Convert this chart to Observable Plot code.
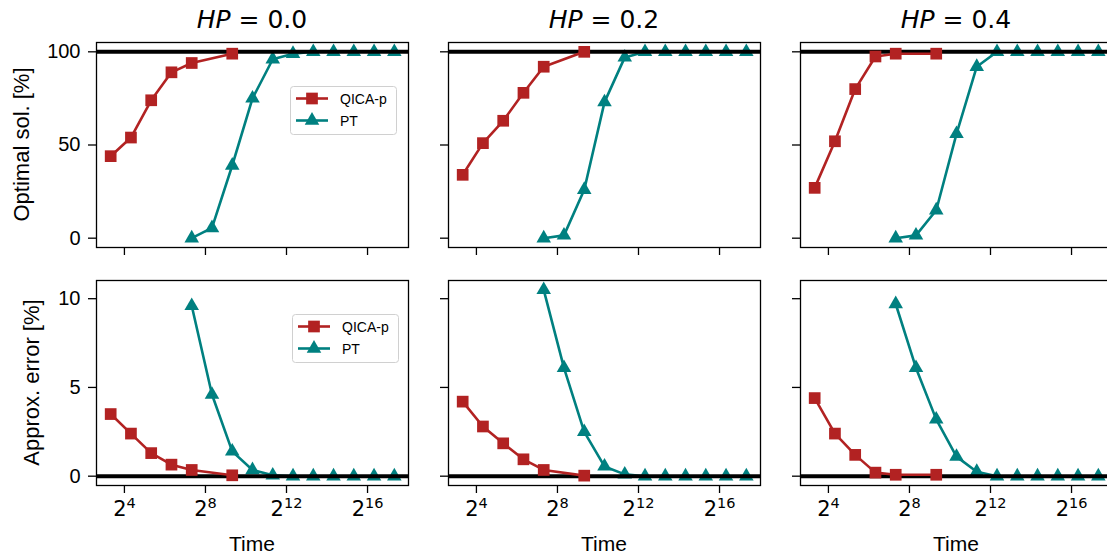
<!DOCTYPE html>
<html><head><meta charset="utf-8">
<script src="https://cdn.jsdelivr.net/npm/d3@7"></script>
<script src="https://cdn.jsdelivr.net/npm/@observablehq/plot@0.6"></script>
<style>
body{margin:0;background:#fff;}
#chart{position:relative;width:1107px;height:558px;overflow:hidden;background:#fff;font-family:"Liberation Sans",Arial,sans-serif;color:#000;}
#chart svg{max-width:none !important;}
.abs{position:absolute;}
</style></head><body><div id="chart"></div>
<script>
// ---- data ----
const hpLabels = ["0.0", "0.2", "0.4"];
const seriesNames = ["QICA-p", "PT"];
const qicaTime = [10, 20, 40, 80, 160, 640];
const ptTime = [160, 320, 640, 1280, 2560, 5120, 10240, 20480, 40960, 81920, 163840];
const optQica = [
  [44, 54, 74, 89, 94, 99],
  [34, 51, 63, 78, 92, 100],
  [27, 52, 80, 97.5, 99, 99]
];
const optPT = [
  [0, 5.5, 39, 75, 96, 99, 100, 100, 100, 100, 100],
  [0, 1.5, 26, 73, 97, 100, 100, 100, 100, 100, 100],
  [0, 1.5, 15, 56, 92, 100, 100, 100, 100, 100, 100]
];
const errQica = [
  [3.5, 2.4, 1.3, 0.65, 0.35, 0.05],
  [4.2, 2.8, 1.85, 0.95, 0.35, 0.03],
  [4.4, 2.4, 1.2, 0.2, 0.08, 0.08]
];
const errPT = [
  [9.6, 4.6, 1.4, 0.35, 0.05, 0, 0, 0, 0, 0, 0],
  [10.5, 6.1, 2.5, 0.55, 0.1, 0, 0, 0, 0, 0, 0],
  [9.7, 6.1, 3.2, 1.1, 0.25, 0, 0, 0, 0, 0, 0]
];
const xTicks = [16, 256, 4096, 65536];
const xTickExp = ["4", "8", "12", "16"];
const optTicks = [0, 50, 100];
const errTicks = [0, 5, 10];
const rowLabels = ["Optimal sol. [%]", "Approx. error [%]"];
const xLabel = "Time";
const refLines = [100, 0];

// ---- style / layout ----
const cQ = "#b22222", cP = "#008080";
const PW = 312, PH = 205, STEP = 352, LEFT0 = 96;
const rowTop = [42, 280];
const xDomain = [10 / Math.pow(2, 0.7), 163840 * Math.pow(2, 0.7)];
const yDomains = [[-5, 105], [-0.525, 11.025]];
const sansFont = "Liberation Sans, Arial, sans-serif";
const mathFont = "DejaVu Sans, sans-serif";
const baseFS = 21, expFS = 14.5;
const baseW = 0.636 * baseFS, expW = 0.636 * expFS;

const chart = document.getElementById("chart");

function tickLabelMarks(n) {
  // tick labels whose exponent has n digits
  const data = xTicks.map((t, i) => ({t, e: xTickExp[i]})).filter(d => d.e.length === n);
  const w = baseW + expW * n;
  return [
    Plot.text(data, {x: "t", text: () => "2", frameAnchor: "bottom", lineAnchor: "bottom", textAnchor: "start",
      dy: 30, dx: -w / 2, fontSize: baseFS, fontFamily: mathFont, fill: "black"}),
    Plot.text(data, {x: "t", text: "e", frameAnchor: "bottom", lineAnchor: "bottom", textAnchor: "start",
      dy: 22.5, dx: -w / 2 + baseW, fontSize: expFS, fontFamily: mathFont, fill: "black"})
  ];
}

function panel(row, col) {
  const qv = row === 0 ? optQica[col] : errQica[col];
  const pv = row === 0 ? optPT[col] : errPT[col];
  const qica = qicaTime.map((t, i) => ({t, v: qv[i]}));
  const pt = ptTime.map((t, i) => ({t, v: pv[i]}));
  const ML = 70, MR = 10, MT = 10, MB = row === 1 ? 40 : 14;
  const marks = [
    Plot.axisX({ticks: xTicks, tickSize: 8, strokeWidth: 1.3, tickFormat: () => "", label: null}),
    Plot.axisY({ticks: row === 0 ? optTicks : errTicks, tickSize: 8, tickPadding: 8, strokeWidth: 1.3,
      tickFormat: col === 0 ? (d => String(d)) : (() => ""), label: null}),
    Plot.line(pt, {x: "t", y: "v", stroke: cP, strokeWidth: 2.6}),
    Plot.dot(pt, {x: "t", y: "v", symbol: "triangle", r: 5.4, fill: cP, stroke: "none"}),
    Plot.ruleY([refLines[row]], {stroke: "black", strokeWidth: 4}),
    Plot.line(qica, {x: "t", y: "v", stroke: cQ, strokeWidth: 2.6}),
    Plot.dot(qica, {x: "t", y: "v", symbol: "square", r: 6.6, fill: cQ, stroke: "none"}),
    Plot.frame({stroke: "black", strokeWidth: 1.3})
  ];
  if (row === 1) marks.push(...tickLabelMarks(1), ...tickLabelMarks(2));
  const svg = Plot.plot({
    width: PW + ML + MR, height: PH + MT + MB,
    marginLeft: ML, marginRight: MR, marginTop: MT, marginBottom: MB,
    style: {background: "transparent", fontFamily: sansFont, fontSize: "20px", color: "black", overflow: "visible"},
    x: {type: "log", base: 2, domain: xDomain},
    y: {domain: yDomains[row]},
    marks
  });
  const div = document.createElement("div");
  div.className = "abs";
  div.style.left = (LEFT0 + col * STEP - ML) + "px";
  div.style.top = (rowTop[row] - MT) + "px";
  div.style.width = (PW + ML + MR) + "px";
  div.appendChild(svg);
  chart.appendChild(div);
}

for (let r = 0; r < 2; r++) for (let c = 0; c < 3; c++) panel(r, c);

// overlay for titles, labels, legends
const ov = d3.select(chart).append("svg").attr("class", "abs")
  .style("left", "0px").style("top", "0px").attr("width", 1107).attr("height", 558)
  .style("pointer-events", "none");

hpLabels.forEach((h, c) => {
  const cx = LEFT0 + c * STEP + PW / 2;
  const t = ov.append("text").attr("x", cx).attr("y", 27.5).attr("text-anchor", "middle")
    .attr("font-family", mathFont).attr("font-size", 25);
  t.append("tspan").attr("font-style", "italic").text("HP");
  t.append("tspan").text(" = " + h);
  ov.append("text").attr("x", cx).attr("y", 551).attr("text-anchor", "middle")
    .attr("font-family", sansFont).attr("font-size", 21).text(xLabel);
});

const ylabX = [29, 39];
rowLabels.forEach((t, r) => {
  const cy = rowTop[r] + PH / 2;
  ov.append("text").attr("transform", `translate(${ylabX[r]},${cy}) rotate(-90)`)
    .attr("text-anchor", "middle").attr("font-family", sansFont).attr("font-size", 22).text(t);
});

const legendBoxes = [{x: 290, y: 86}, {x: 292, y: 314}];
legendBoxes.forEach(b => {
  const s = ov.append("g").attr("transform", `translate(${b.x},${b.y})`);
  s.append("rect").attr("x", 0.5).attr("y", 0.5).attr("width", 106).attr("height", 48)
    .attr("rx", 3).attr("fill", "white").attr("fill-opacity", 0.8).attr("stroke", "#d0d0d0");
  seriesNames.forEach((n, i) => {
    const y = 12.5 + i * 22;
    const col = i === 0 ? cQ : cP;
    s.append("line").attr("x1", 6).attr("x2", 38).attr("y1", y).attr("y2", y)
      .attr("stroke", col).attr("stroke-width", 2.6);
    s.append("path").attr("transform", `translate(22,${y})`)
      .attr("d", d3.symbol(i === 0 ? d3.symbolSquare : d3.symbolTriangle, Math.PI * (i === 0 ? 6.6 : 5.4) ** 2)())
      .attr("fill", col);
    s.append("text").attr("x", 50).attr("y", y + 5).attr("font-size", 14)
      .attr("font-family", sansFont).text(n);
  });
});
</script>
</body></html>
